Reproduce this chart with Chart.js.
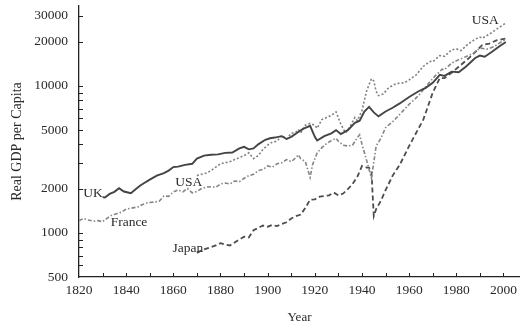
<!DOCTYPE html>
<html>
<head>
<meta charset="utf-8">
<script src="https://cdn.jsdelivr.net/npm/chart.js@4.4.1/dist/chart.umd.min.js"></script>
<style>
  html, body { margin: 0; padding: 0; background: #fff; }
  canvas { display: block; }
</style>
</head>
<body>
<canvas id="c" width="520" height="325"></canvas>
<script>
// Real GDP per capita (1990 dollars), selected years
const ukYears = [1830,1831,1833,1835,1837,1839,1842,1844,1846,1848,1850,1853,1856,1858,1860,1862,1865,1868,1870,1873,1876,1879,1882,1885,1888,1890,1892,1894,1896,1899,1901,1903,1906,1908,1910,1913,1915,1918,1920,1921,1924,1927,1929,1931,1934,1937,1939,1941,1943,1945,1947,1950,1953,1956,1960,1964,1967,1970,1973,1975,1978,1981,1984,1988,1990,1992,1995,1998,2001];
const ukGdp = [1750,1740,1840,1900,2010,1910,1860,1980,2100,2200,2300,2450,2550,2650,2800,2820,2900,2950,3200,3350,3400,3420,3500,3520,3750,3850,3700,3750,4000,4300,4400,4450,4550,4350,4500,4850,5100,5350,4500,4250,4550,4750,5000,4700,5000,5600,5800,6700,7200,6600,6200,6700,7100,7600,8400,9200,9700,10500,11900,11700,12500,12400,13500,15500,16100,15800,17000,18500,19900];

const usaYears = [1870,1872,1874,1876,1878,1880,1882,1884,1886,1888,1890,1892,1894,1896,1898,1900,1902,1904,1906,1908,1910,1912,1913,1914,1916,1918,1920,1921,1923,1925,1927,1929,1930,1931,1933,1935,1937,1938,1940,1942,1944,1945,1946,1947,1949,1951,1953,1955,1958,1960,1963,1966,1969,1970,1973,1975,1978,1980,1982,1985,1988,1990,1991,1994,1997,2001];
const usaGdp = [2450,2500,2550,2650,2800,2950,3000,3050,3150,3250,3350,3500,3200,3350,3700,3950,4150,4200,4600,4350,4750,4850,5050,4800,5400,5550,5400,5150,5900,6100,6300,6650,6050,5500,4800,5300,6100,5800,6800,9300,11200,10800,9200,8600,8800,9600,10100,10400,10500,11000,11900,13600,14700,14600,16100,15900,17600,17900,17400,19300,20800,21500,21100,22500,24300,26800];

const franceYears = [1820,1822,1824,1826,1828,1830,1832,1834,1836,1838,1840,1842,1845,1847,1849,1852,1854,1856,1858,1860,1862,1864,1866,1868,1870,1872,1874,1876,1878,1880,1882,1884,1886,1888,1890,1892,1894,1896,1898,1900,1902,1904,1906,1908,1910,1912,1913,1914,1916,1918,1919,1921,1923,1925,1927,1929,1930,1932,1934,1936,1938,1939,1940,1942,1944,1946,1948,1950,1953,1956,1960,1964,1968,1971,1974,1975,1978,1981,1984,1987,1990,1993,1996,1999,2001];
const franceGdp = [1210,1250,1220,1200,1210,1190,1260,1320,1350,1380,1450,1470,1500,1560,1600,1620,1640,1780,1770,1900,1960,1900,2000,1870,1910,2000,2050,2060,2040,2150,2180,2150,2250,2230,2350,2450,2500,2650,2700,2850,2800,2950,3000,3150,3050,3250,3400,3200,3050,2380,2900,3500,3800,4050,4250,4400,4200,3950,3900,3950,4450,4650,4000,3100,2350,3900,4400,5200,5700,6400,7500,8600,10300,11700,13000,12900,14300,15100,15800,16600,18100,17800,18500,19900,20700];

const japanYears = [1870,1872,1874,1876,1878,1880,1882,1884,1886,1888,1890,1892,1894,1896,1898,1900,1902,1904,1906,1908,1910,1912,1914,1916,1918,1920,1922,1924,1926,1928,1930,1932,1934,1936,1938,1940,1942,1943,1944,1945,1946,1948,1950,1953,1956,1960,1963,1966,1970,1973,1975,1978,1981,1985,1988,1991,1994,1997,2001];
const japanGdp = [730,760,780,800,820,850,830,820,860,900,940,930,1040,1080,1120,1100,1130,1110,1150,1180,1250,1300,1330,1480,1680,1690,1760,1780,1800,1880,1800,1850,1980,2150,2400,2850,2780,2780,2600,1300,1450,1650,1950,2450,2900,3900,4800,5900,9000,11300,11300,12300,13500,15300,17000,19000,19400,20400,21000];

// Axis ticks
const yTickLabels = [500, 1000, 2000, 5000, 10000, 20000, 30000];
const yTickMarks = [600, 700, 800, 900, 1000, 2000, 3000, 4000, 5000, 6000, 7000, 8000, 9000, 10000, 20000, 30000];
const xTickLabels = [1820, 1840, 1860, 1880, 1900, 1920, 1940, 1960, 1980, 2000];
const xTickMarks = [1830, 1840, 1850, 1860, 1870, 1880, 1890, 1900, 1910, 1920, 1930, 1940, 1950, 1960, 1970, 1980, 1990, 2000];

// Country names written beside the curves: [text, year, gdp]
const seriesNames = [
  ['UK', 1825.9, 1840],
  ['USA', 1866.5, 2215],
  ['France', 1841.2, 1177],
  ['Japan', 1866.2, 780],
  ['USA', 1992.3, 27700]
];

const toPoints = (years, values) => years.map((yr, i) => ({ x: yr, y: values[i] }));

const SERIF = "'Liberation Serif', 'Times New Roman', serif";

const axisExtras = {
  id: 'axisExtras',
  afterDraw(chart) {
    const { ctx, chartArea, scales: { x, y } } = chart;
    ctx.save();
    ctx.strokeStyle = '#222';
    ctx.lineWidth = 1;
    ctx.beginPath();
    yTickMarks.forEach(v => {
      const py = Math.round(y.getPixelForValue(v)) + 0.5;
      ctx.moveTo(chartArea.left, py);
      ctx.lineTo(chartArea.left + 4, py);
    });
    xTickMarks.forEach(v => {
      const px = Math.round(x.getPixelForValue(v)) + 0.5;
      ctx.moveTo(px, chartArea.bottom);
      ctx.lineTo(px, chartArea.bottom - 4);
    });
    ctx.stroke();

    ctx.fillStyle = '#2a2a2a';
    ctx.font = "13.5px " + SERIF;
    ctx.textAlign = 'center';
    ctx.textBaseline = 'middle';
    seriesNames.forEach(([text, yr, val]) => {
      ctx.fillText(text, x.getPixelForValue(yr), y.getPixelForValue(val));
    });
    ctx.restore();
  }
};

const lineStyle = (color, width, dash) => ({
  borderColor: color,
  borderWidth: width,
  borderDash: dash,
  pointRadius: 0,
  tension: 0,
  fill: false
});

new Chart(document.getElementById('c'), {
  type: 'line',
  data: {
    datasets: [
      { label: 'UK', data: toPoints(ukYears, ukGdp), ...lineStyle('#444444', 1.9, []) },
      { label: 'USA', data: toPoints(usaYears, usaGdp), ...lineStyle('#808080', 1.6, [2, 2]) },
      { label: 'France', data: toPoints(franceYears, franceGdp), ...lineStyle('#858585', 1.6, [4, 2, 1.5, 2]) },
      { label: 'Japan', data: toPoints(japanYears, japanGdp), ...lineStyle('#4d4d4d', 1.8, [5, 3]) }
    ]
  },
  options: {
    responsive: false,
    animation: false,
    devicePixelRatio: 1,
    layout: { padding: { top: 6, right: 0, bottom: 0, left: 0 } },
    plugins: { legend: { display: false }, tooltip: { enabled: false } },
    scales: {
      x: {
        type: 'linear',
        min: 1820,
        max: 2007,
        afterBuildTicks: s => { s.ticks = xTickLabels.map(v => ({ value: v })); },
        afterFit: s => { s.height = 48; s.paddingLeft = 0; s.paddingRight = 0; },
        grid: { display: false, drawTicks: false },
        border: { display: true, color: '#222', width: 1.3 },
        ticks: {
          color: '#2a2a2a',
          padding: 5.5,
          maxRotation: 0,
          autoSkip: false,
          font: { family: SERIF, size: 13.5 },
          callback: v => String(v)
        },
        title: {
          display: true,
          text: 'Year',
          color: '#2a2a2a',
          font: { family: SERIF, size: 13 },
          padding: { top: 0, bottom: 0 }
        }
      },
      y: {
        type: 'logarithmic',
        min: 500,
        max: 35000,
        afterBuildTicks: s => { s.ticks = yTickLabels.map(v => ({ value: v })); },
        afterFit: s => { s.width = 79; s.paddingTop = 0; s.paddingBottom = 0; },
        grid: { display: false, drawTicks: false },
        border: { display: true, color: '#222', width: 1.3 },
        ticks: {
          color: '#2a2a2a',
          padding: 11,
          autoSkip: false,
          font: { family: SERIF, size: 13.5 },
          callback: v => String(v)
        },
        title: {
          display: true,
          text: 'Real GDP per Capita',
          color: '#2a2a2a',
          font: { family: SERIF, size: 14 },
          padding: { top: 8.6, bottom: 0 }
        }
      }
    }
  },
  plugins: [axisExtras]
});
</script>
</body>
</html>
